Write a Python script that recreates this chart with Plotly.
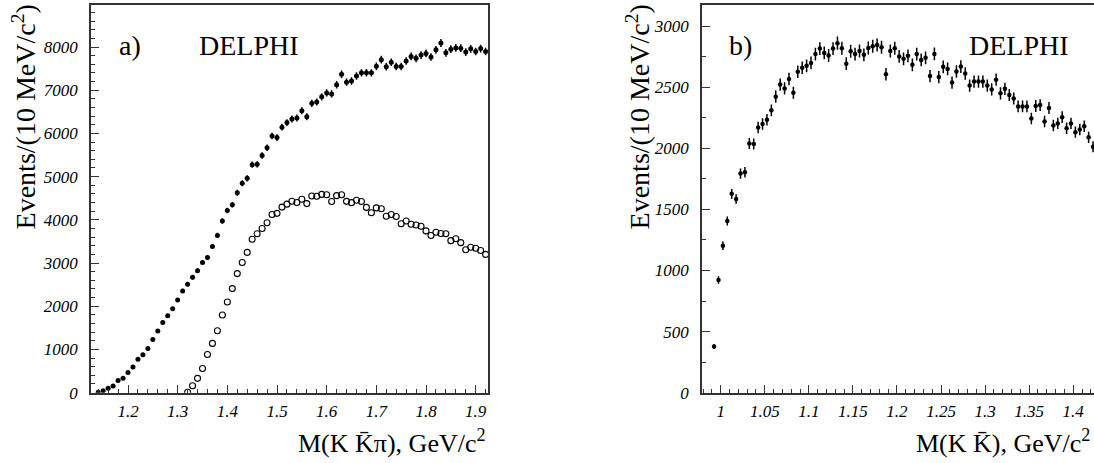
import plotly.graph_objects as go

# ---------------- data ----------------
# panel a) : M(K Kbar pi), 10 MeV bins
mass_a_all = [round(1.14 + 0.01 * i, 2) for i in range(79)]
events_a_all = [
    10, 45, 104, 155, 279, 331, 467, 596, 770, 874,
    1019, 1230, 1427, 1622, 1781, 1940, 2144, 2355, 2506, 2672,
    2823, 3012, 3126, 3382, 3638, 3971, 4215, 4349, 4627, 4847,
    4960, 5277, 5284, 5488, 5669, 5941, 5903, 6145, 6251, 6333,
    6356, 6523, 6387, 6696, 6727, 6847, 6938, 6915, 7126, 7368,
    7187, 7213, 7330, 7402, 7405, 7402, 7556, 7708, 7542, 7647,
    7549, 7549, 7678, 7783, 7738, 7813, 7851, 7768, 7934, 8093,
    7866, 7950, 7979, 7972, 7882, 7957, 7896, 7964, 7896,
]
mass_a_sel = [round(1.32 + 0.01 * i, 2) for i in range(61)]
events_a_sel = [
    10, 158, 331, 557, 883, 1139, 1434, 1796, 2098, 2408,
    2755, 3012, 3246, 3550, 3676, 3800, 3932, 4122, 4150, 4295,
    4363, 4431, 4401, 4477, 4375, 4552, 4544, 4589, 4582, 4424,
    4560, 4580, 4428, 4398, 4454, 4424, 4288, 4163, 4276, 4258,
    4084, 4122, 4077, 3910, 3971, 3896, 3880, 3850, 3744, 3638,
    3714, 3683, 3676, 3518, 3563, 3472, 3307, 3366, 3343, 3291,
    3200,
]
# panel b) : M(K Kbar), 5 MeV bins
mass_b = [round(0.9925 + 0.005 * i, 4) for i in range(87)]
events_b = [
    377, 922, 1203, 1405, 1627, 1585, 1793, 1804, 2039, 2036,
    2170, 2199, 2234, 2311, 2423, 2522, 2490, 2567, 2455, 2627,
    2659, 2675, 2699, 2771, 2816, 2781, 2760, 2816, 2861, 2819,
    2693, 2795, 2771, 2797, 2765, 2821, 2835, 2845, 2827, 2607,
    2797, 2819, 2752, 2733, 2757, 2683, 2771, 2723, 2741, 2591,
    2773, 2583, 2667, 2650, 2538, 2629, 2669, 2613, 2514, 2546,
    2546, 2546, 2514, 2482, 2562, 2450, 2487, 2437, 2407, 2343,
    2343, 2343, 2244, 2346, 2354, 2220, 2330, 2186, 2204, 2255,
    2164, 2204, 2132, 2154, 2180, 2090, 2012,
]

# ---------------- figure ----------------
W, H = 1094, 463
SERIF = "Liberation Serif"
AX = "#333333"

def px(x):
    return x / W

def py(y):
    return 1 - y / H

fig = go.Figure()

fig.add_trace(go.Scatter(
    x=mass_a_all, y=events_a_all, mode="markers",
    marker=dict(symbol="circle", size=5, color="black"),
    error_y=dict(type="sqrt", color="black", thickness=1.5, width=0),
    xaxis="x", yaxis="y", showlegend=False,
))
fig.add_trace(go.Scatter(
    x=mass_a_sel, y=events_a_sel, mode="markers",
    marker=dict(symbol="circle-open", size=6, color="black", line=dict(width=1.1)),
    xaxis="x", yaxis="y", showlegend=False,
))
fig.add_trace(go.Scatter(
    x=mass_b, y=events_b, mode="markers",
    marker=dict(symbol="circle", size=4.5, color="black"),
    error_y=dict(type="sqrt", color="black", thickness=1.5, width=0),
    error_x=dict(type="constant", value=0.0016, color="black", thickness=1.2, width=0),
    xaxis="x2", yaxis="y2", showlegend=False,
))

tickfont = dict(family=SERIF, size=17, color="black", style="italic")

def axis(**kw):
    d = dict(
        showline=True, linecolor=AX, linewidth=1.5,
        ticks="inside", ticklen=8, tickwidth=1.2, tickcolor=AX,
        showgrid=False, zeroline=False,
        tickfont=dict(tickfont),
    )
    d.update(kw)
    return d

ya_bot, ya_top = 401.3, 5
fig.update_layout(
    width=W, height=H,
    margin=dict(l=0, r=0, t=0, b=0),
    paper_bgcolor="white", plot_bgcolor="white",
    font=dict(family=SERIF, size=16, color="black"),
    xaxis=axis(
        domain=[px(91), px(488)], range=[1.1255, 1.9248],
        dtick=0.1, tick0=1.2, mirror=True, anchor="y",
        minor=dict(ticks="inside", ticklen=4, dtick=0.02, tick0=1.2, tickcolor=AX, tickwidth=1),
        ticklabelstandoff=2,
    ),
    yaxis=axis(
        domain=[py(ya_bot), py(ya_top)], range=[0, 8975],
        dtick=1000, tick0=0, mirror=True, anchor="x",
        minor=dict(ticks="inside", ticklen=4, dtick=200, tick0=0, tickcolor=AX, tickwidth=1),
        ticklabelstandoff=8,
    ),
    xaxis2=axis(
        domain=[px(702), 1.0], range=[0.9788, 1.4236],
        dtick=0.05, tick0=1.0, mirror=True, anchor="y2",
        minor=dict(ticks="inside", ticklen=4, dtick=0.01, tick0=1.0, tickcolor=AX, tickwidth=1),
        ticklabelstandoff=2,
    ),
    yaxis2=axis(
        domain=[py(ya_bot), py(ya_top)], range=[0, 3174],
        dtick=500, tick0=0, mirror=False, anchor="x2",
        minor=dict(ticks="inside", ticklen=4, dtick=250, tick0=0, tickcolor=AX, tickwidth=1),
        ticklabelstandoff=8,
    ),
)

def ann(text, x, y, size, xanchor="center", yanchor="middle", angle=0):
    fig.add_annotation(
        text=text, x=px(x), y=py(y), xref="paper", yref="paper",
        showarrow=False, xanchor=xanchor, yanchor=yanchor, textangle=angle,
        font=dict(family=SERIF, size=size, color="black"),
    )

ann("a)", 130, 46, 28)
ann("DELPHI", 249, 46, 28)
ann("b)", 740, 47, 28)
ann("DELPHI", 1019, 47, 28)

ann("M(K K\u0304\u03c0), GeV/c<sup>2</sup>", 488, 451, 26, xanchor="right")
ann("M(K K\u0304), GeV/c<sup>2</sup>", 1092, 451, 26, xanchor="right")

ann("Events/(10 MeV/c<sup>2</sup>)", 24, 120, 28, angle=-90)
ann("Events/(10 MeV/c<sup>2</sup>)", 638, 120, 28, angle=-90)

fig.write_html("out.html", config={"displayModeBar": False})

# remove the default page margin so the figure sits at the window origin
with open("out.html", "r", encoding="utf-8") as f:
    page = f.read()
page = page.replace(
    "<head>",
    "<head><style>html,body{margin:0;padding:0;overflow:hidden;}</style>",
    1,
)
with open("out.html", "w", encoding="utf-8") as f:
    f.write(page)
